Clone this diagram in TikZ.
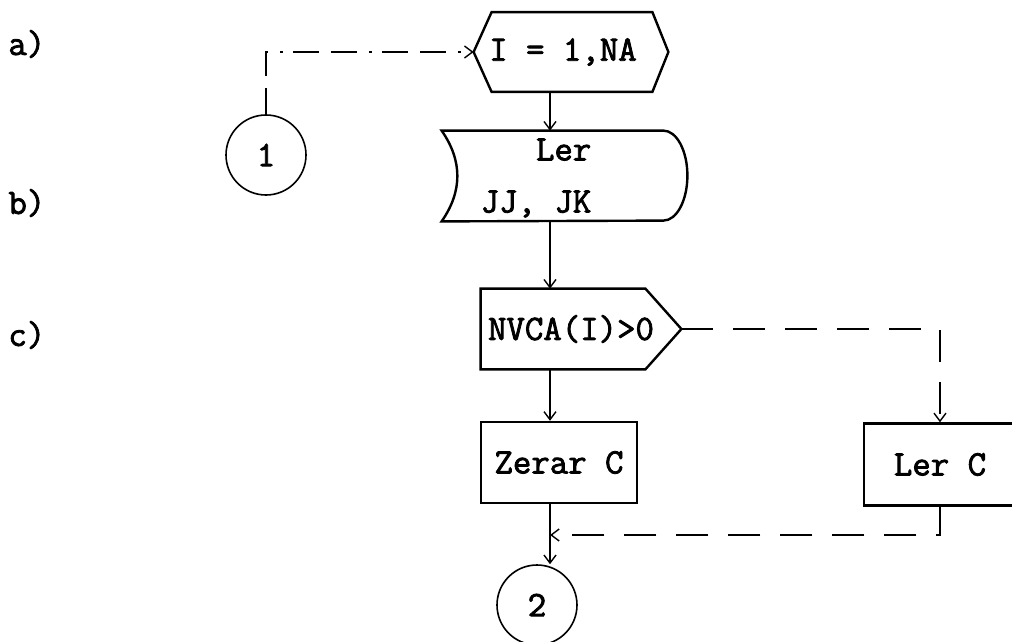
\documentclass[tikz,border=0pt]{standalone}
\usepackage{fontspec}
\newfontfamily\flowfont{Latin Modern Mono}[FakeBold=2.2]
\usepackage{tikz}
\usetikzlibrary{calc}
\usetikzlibrary{arrows.meta}

\begin{document}
\begin{tikzpicture}[x=0.5pt, y=-0.5pt, >={Straight Barb[length=4pt,width=6pt]}]

  % ---------- Styling ----------
  \tikzset{
    txt/.style={font=\flowfont\fontsize{17.9pt}{26pt}\selectfont, inner sep=0pt},
    frame/.style={draw=black, line width=1.2pt, line join=miter},
    blank/.style={inner sep=0pt},
    link/.style={draw=black, line width=0.7pt, ->},
    dashlink/.style={link, dash pattern=on 16pt off 10pt},
    dotlink/.style={link, dash pattern=on 13pt off 6pt on 13pt off 6pt on 1.5pt off 5pt},
    connector/.style={txt, circle, draw=black, line width=0.8pt, minimum size=40pt},
    procbox/.style={txt, rectangle, frame, minimum height=40.5pt},
    tag/.style={txt, anchor=west}
  }

  \useasboundingbox (0,0) rectangle (1012,642);

  % ---------- Side labels ----------
  \node[tag] (tagA) at (8,44) {a)};
  \node[tag] (tagB) at (8,203) {b)};
  \node[tag] (tagC) at (8,335) {c)};

  % ---------- Geometry ----------
  \coordinate (spine) at (550,0);
  \coordinate (merge) at (550,535);

  \node[connector] (c1) at (266,155) {1};
  \node[blank, minimum width=97pt, minimum height=39.5pt] (loop) at (571,52) {};
  \node[blank, minimum width=122.5pt, minimum height=45pt] (ler) at (564.5,176) {};
  \node[blank, minimum width=100pt, minimum height=40pt] (test) at (581,329) {};
  \node[procbox, minimum width=78pt] (zero) at (559,462.5) {Zerar C};
  \node[procbox, minimum width=76pt, minimum height=41pt] (readc) at (940,464.5) {Ler C};
  \node[connector] (c2) at (537,605) {2};

  % ---------- Outlines ----------
  \draw[frame] (loop.west) -- ([xshift=9pt]loop.north west)
    -- ([xshift=-8pt]loop.north east) -- (loop.east)
    -- ([xshift=-8pt]loop.south east) -- ([xshift=9pt]loop.south west) -- cycle;

  \draw[frame] (ler.north west) -- ([xshift=-12pt]ler.north east)
    arc[start angle=90, end angle=-90, x radius=12pt, y radius=22.5pt]
    -- (ler.south west)
    .. controls +(10.5pt,15pt) and +(10.5pt,-15pt) .. (ler.north west) -- cycle;

  \draw[frame] (test.north west) -- ([xshift=-18pt]test.north east)
    -- (test.east) -- ([xshift=-18pt]test.south east) -- (test.south west) -- cycle;

  % ---------- Texts ----------
  \node[txt] (loopT) at ([xshift=-4pt]loop.center) {I = 1,NA};
  \node[txt, align=left] (lerT) at (536,178) {\phantom{XXX}Ler\\JJ, JK};
  \node[txt] (testT) at ([xshift=-5pt]test.center) {NVCA(I)>0};

  % ---------- Flow ----------
  \draw[dotlink] (c1.north) |- (loop.west);
  \draw[link] (loop.south -| spine) -- (ler.north -| spine);
  \draw[link] (ler.south -| spine) -- (test.north -| spine);
  \draw[link] (test.south -| spine) -- (zero.north -| spine);
  \draw[dashlink] (test.east) -| (readc.north);
  \draw[dashlink] (readc.south) |- (merge);
  \draw[link] (zero.south -| spine) -- (spine |- c2.north);

\end{tikzpicture}
\end{document}
